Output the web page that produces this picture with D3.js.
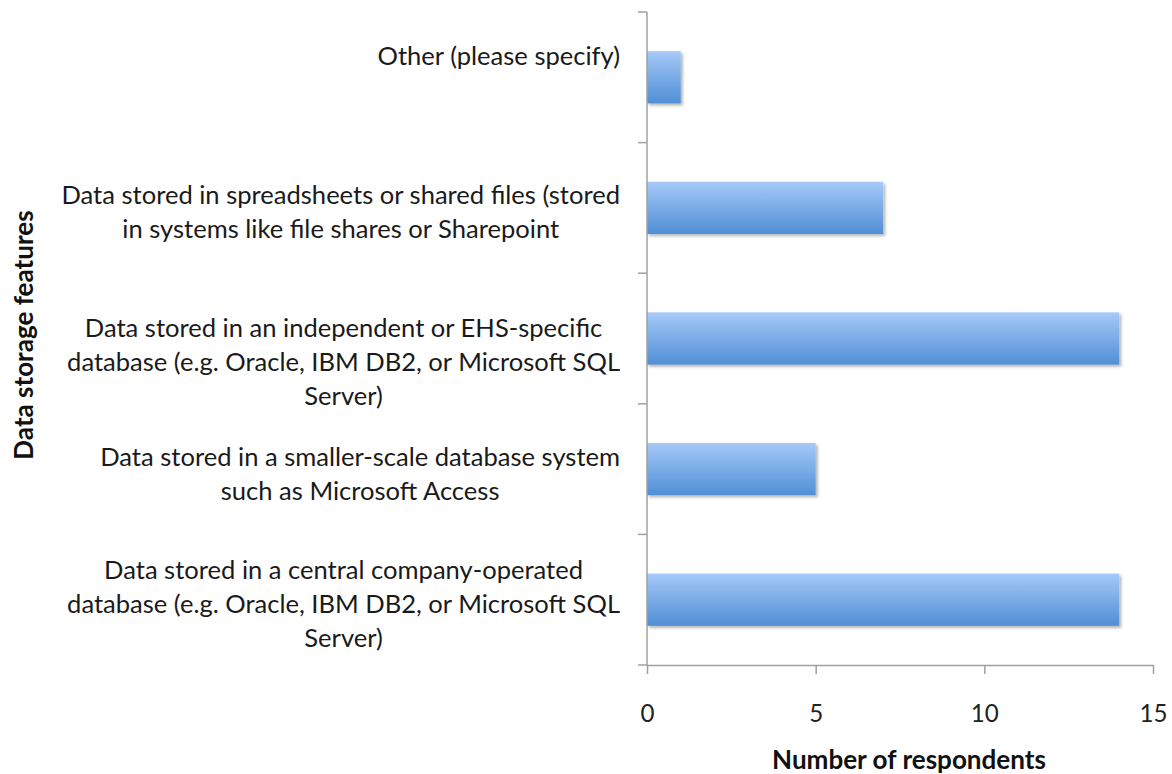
<!DOCTYPE html>
<html>
<head>
<meta charset="utf-8">
<script src="https://cdn.jsdelivr.net/npm/d3@7"></script>
<style>
  body { margin: 0; background: #fff; }
  text { font-family: Lato, "Open Sans", sans-serif; }
</style>
</head>
<body>
<div class="chart"></div>
<script>
// categories top to bottom, each label split into its lines
var categories = ["other", "spreadsheets", "independent", "smaller", "central"];
var labelLines = [
    ["Other (please specify)"],
    ["Data stored in spreadsheets or shared files (stored", "in systems like file shares or Sharepoint"],
    ["Data stored in an independent or EHS-specific", "database (e.g. Oracle, IBM DB2, or Microsoft SQL", "Server)"],
    ["Data stored in a smaller-scale database system", "such as Microsoft Access"],
    ["Data stored in a central company-operated", "database (e.g. Oracle, IBM DB2, or Microsoft SQL", "Server)"]
];
var values = [1, 7, 14, 5, 14];
var xTicks = [0, 5, 10, 15];
// label block shift vs. band centre (the original is not quite centred)
var labelShift = [-21, 4, 24, 5, 4];

var width = 1172, height = 774;
var plotLeft = 647, plotRight = 1153, plotTop = 12, plotBottom = 665;
var labelRight = 620;
var lineH = 34;

var svg = d3.select(".chart").append("svg")
    .attr("width", width)
    .attr("height", height);

var defs = svg.append("defs");
var grad = defs.append("linearGradient")
    .attr("id", "barGrad")
    .attr("x1", 0).attr("y1", 0).attr("x2", 0).attr("y2", 1);
grad.append("stop").attr("offset", "0%").attr("stop-color", "#a6c9f8");
grad.append("stop").attr("offset", "100%").attr("stop-color", "#4f8fd5");

var shadow = defs.append("filter").attr("id", "shadow")
    .attr("x", "-5%").attr("y", "-20%").attr("width", "115%").attr("height", "150%");
shadow.append("feDropShadow")
    .attr("dx", 2).attr("dy", 2).attr("stdDeviation", 1.5)
    .attr("flood-color", "#000").attr("flood-opacity", 0.3);

var x = d3.scaleLinear()
    .domain([0, 15])
    .range([plotLeft, plotRight]);

var y = d3.scaleBand()
    .domain(categories)
    .range([plotTop, plotBottom])
    .paddingInner(0.6)
    .paddingOuter(0.3);

// bars
svg.append("g").selectAll("rect")
    .data(values)
    .enter().append("rect")
    .attr("x", x(0))
    .attr("y", function(d, i) { return y(categories[i]); })
    .attr("width", function(d) { return x(d) - x(0); })
    .attr("height", y.bandwidth())
    .attr("fill", "url(#barGrad)")
    .attr("filter", "url(#shadow)");

// fit a font size so a sample string has the width it has in the original
function fitSize(str, target, weight) {
    var t = svg.append("text").attr("font-size", 20).attr("font-weight", weight).text(str);
    var w = t.node().getComputedTextLength();
    t.remove();
    return 20 * target / w;
}
var labelSize = fitSize("database (e.g. Oracle, IBM DB2, or Microsoft SQL", 553, "normal");
var tickSize = fitSize("10", 28, "normal");
var titleSize = fitSize("Number of respondents", 274, "bold");

// x axis
var xAxis = svg.append("g")
    .attr("transform", "translate(0," + plotBottom + ")")
    .call(d3.axisBottom(x).tickValues(xTicks).tickSize(9).tickPadding(31).tickSizeOuter(0));
xAxis.select(".domain").attr("stroke", "#a0a0a0").attr("stroke-width", 1.5);
xAxis.selectAll(".tick line").attr("stroke", "#a0a0a0").attr("stroke-width", 1.5);
xAxis.selectAll(".tick text")
    .attr("font-size", tickSize)
    .attr("fill", "#222")
    .style("font-family", "Lato, 'Open Sans', sans-serif");

// y axis: ticks at band edges
var yEdges = categories.map(function(c) { return y(c) - y.step() * y.paddingInner() / 2; });
yEdges.push(plotBottom);
var yAxis = svg.append("g");
yAxis.append("line")
    .attr("x1", plotLeft).attr("x2", plotLeft)
    .attr("y1", plotTop).attr("y2", plotBottom)
    .attr("stroke", "#a0a0a0").attr("stroke-width", 1.5);
yAxis.selectAll("line.tick")
    .data(yEdges)
    .enter().append("line")
    .attr("class", "tick")
    .attr("x1", plotLeft - 9).attr("x2", plotLeft)
    .attr("y1", function(d) { return d; })
    .attr("y2", function(d) { return d; })
    .attr("stroke", "#a0a0a0").attr("stroke-width", 1.5);

// category labels: block right aligned, lines centred inside the block
var labels = svg.append("g").selectAll("text")
    .data(labelLines)
    .enter().append("text")
    .attr("text-anchor", "middle")
    .attr("font-size", labelSize)
    .attr("fill", "#1a1a1a");
labels.selectAll("tspan")
    .data(function(d) { return d; })
    .enter().append("tspan")
    .attr("x", 0)
    .attr("y", function(d, j) { return j * lineH; })
    .attr("dy", "0.35em")
    .text(function(d) { return d; });
labels.attr("transform", function(d, i) {
    var blockW = d3.max(d3.select(this).selectAll("tspan").nodes(), function(n) {
        return n.getComputedTextLength();
    });
    var cy = y(categories[i]) + y.bandwidth() / 2 + labelShift[i];
    return "translate(" + (labelRight - blockW / 2) + "," + (cy - (d.length - 1) * lineH / 2) + ")";
});

// axis titles
svg.append("text")
    .attr("x", 909)
    .attr("y", 760)
    .attr("dy", "0.35em")
    .attr("text-anchor", "middle")
    .attr("font-size", titleSize)
    .attr("font-weight", "bold")
    .attr("fill", "#111")
    .text("Number of respondents");

svg.append("text")
    .attr("transform", "translate(24,335) rotate(-90)")
    .attr("dy", "0.35em")
    .attr("text-anchor", "middle")
    .attr("font-size", titleSize)
    .attr("font-weight", "bold")
    .attr("fill", "#111")
    .text("Data storage features");
</script>
</body>
</html>
